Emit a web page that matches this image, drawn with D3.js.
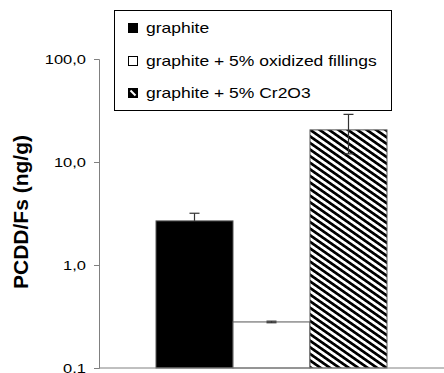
<!DOCTYPE html>
<html lang="en">
<head>
  <meta charset="UTF-8">
  <title>PCDD/Fs</title>
  <script src="https://d3js.org/d3.v7.min.js"></script>
  <style>
    body { margin: 0; background: #fff; font-family: "Liberation Sans", Arial, sans-serif; }
    .axis path, .axis line { stroke: #808080; }
    .tick-label { fill: #000; font-size: 12.5px; }
    .legend text { font-size: 14px; fill: #000; }
  </style>
</head>
<body>
<script>
  // data
  const series = ["graphite", "graphite + 5% oxidized fillings", "graphite + 5% Cr2O3"];
  const values = [2.68, 0.28, 20.5];
  const errors = [0.5, 0.005, 8.5];
  const tickValues = [0.1, 1, 10, 100];
  const tickLabels = ["0,1", "1,0", "10,0", "100,0"];

  const W = 444, H = 373;
  const plot = {left: 99, right: 444, top: 59, bottom: 368};
  const stretch = 1.32; // reference text looks widened

  const svg = d3.select("body").append("svg")
    .attr("width", W).attr("height", H);

  const defs = svg.append("defs");
  const pat = defs.append("pattern")
    .attr("id", "hatch")
    .attr("patternUnits", "userSpaceOnUse")
    .attr("width", 5.4).attr("height", 6)
    .attr("patternTransform", "rotate(-55)");
  pat.append("rect").attr("width", 5.4).attr("height", 6).attr("fill", "#fff");
  pat.append("rect").attr("width", 2.9).attr("height", 6).attr("fill", "#000")
    .attr("shape-rendering", "crispEdges");

  const fills = ["#000", "#fff", "url(#hatch)"];

  const y = d3.scaleLog().domain([0.1, 100]).range([plot.bottom, plot.top]);
  const x0 = d3.scaleBand().domain(["all"]).range([plot.left, plot.right])
    .paddingInner(0).paddingOuter(0.2468);
  const x1 = d3.scaleBand().domain(d3.range(series.length))
    .range([x0("all"), x0("all") + x0.bandwidth()]).padding(0);

  // bars
  svg.selectAll(".bar").data(values).enter().append("rect")
    .attr("class", "bar")
    .attr("x", (d, i) => x1(i))
    .attr("width", x1.bandwidth())
    .attr("y", d => y(d))
    .attr("height", d => plot.bottom - y(d))
    .attr("fill", (d, i) => fills[i])
    .attr("stroke", "#555")
    .attr("stroke-width", 1);

  // error bars
  const eg = svg.append("g").attr("stroke", "#333").attr("stroke-width", 1.2);
  values.forEach((v, i) => {
    const cx = x1(i) + x1.bandwidth() / 2;
    const lo = i === 0 ? v : v - errors[i];
    const hi = v + errors[i];
    eg.append("line").attr("x1", cx).attr("x2", cx).attr("y1", y(lo)).attr("y2", y(hi));
    eg.append("line").attr("x1", cx - 5).attr("x2", cx + 5).attr("y1", y(hi)).attr("y2", y(hi));
    if (i !== 0) {
      eg.append("line").attr("x1", cx - 5).attr("x2", cx + 5).attr("y1", y(lo)).attr("y2", y(lo));
    }
  });

  // axes
  const yAxis = d3.axisLeft(y).tickValues(tickValues)
    .tickFormat("").tickSizeOuter(0).tickSize(5);
  svg.append("g").attr("class", "axis")
    .attr("transform", "translate(" + plot.left + ",0)")
    .call(yAxis);

  svg.selectAll(".tick-label").data(tickValues).enter().append("text")
    .attr("class", "tick-label")
    .attr("transform", d => "translate(86," + y(d) + ") scale(" + stretch + ",1)")
    .attr("text-anchor", "end")
    .attr("dy", "0.36em")
    .text((d, i) => tickLabels[i]);

  svg.append("line")
    .attr("x1", plot.left).attr("x2", plot.right)
    .attr("y1", plot.bottom).attr("y2", plot.bottom)
    .attr("stroke", "#808080");

  svg.append("text")
    .attr("transform", "translate(28,212) rotate(-90)")
    .attr("text-anchor", "middle")
    .style("font-size", "21px")
    .style("font-weight", "bold")
    .text("PCDD/Fs (ng/g)");

  // legend
  const leg = svg.append("g").attr("class", "legend");
  leg.append("rect")
    .attr("x", 114.5).attr("y", 10.5).attr("width", 277).attr("height", 100)
    .attr("fill", "#fff").attr("stroke", "#000");
  const rowY = [28, 61, 93];
  series.forEach((s, i) => {
    leg.append("rect")
      .attr("x", 128.5).attr("y", rowY[i] - 4.5).attr("width", 9).attr("height", 9)
      .attr("fill", i === 2 ? "#000" : fills[i]).attr("stroke", "#000");
    if (i === 2) {
      leg.append("path")
        .attr("d", "M130.5," + (rowY[i] - 2.5) + " L135.5," + (rowY[i] + 2.5))
        .attr("stroke", "#fff").attr("stroke-width", 2);
    }
    leg.append("text")
      .attr("transform", "translate(146," + rowY[i] + ") scale(1.25,1)")
      .attr("dy", "0.36em")
      .text(s);
  });
</script>
</body>
</html>
